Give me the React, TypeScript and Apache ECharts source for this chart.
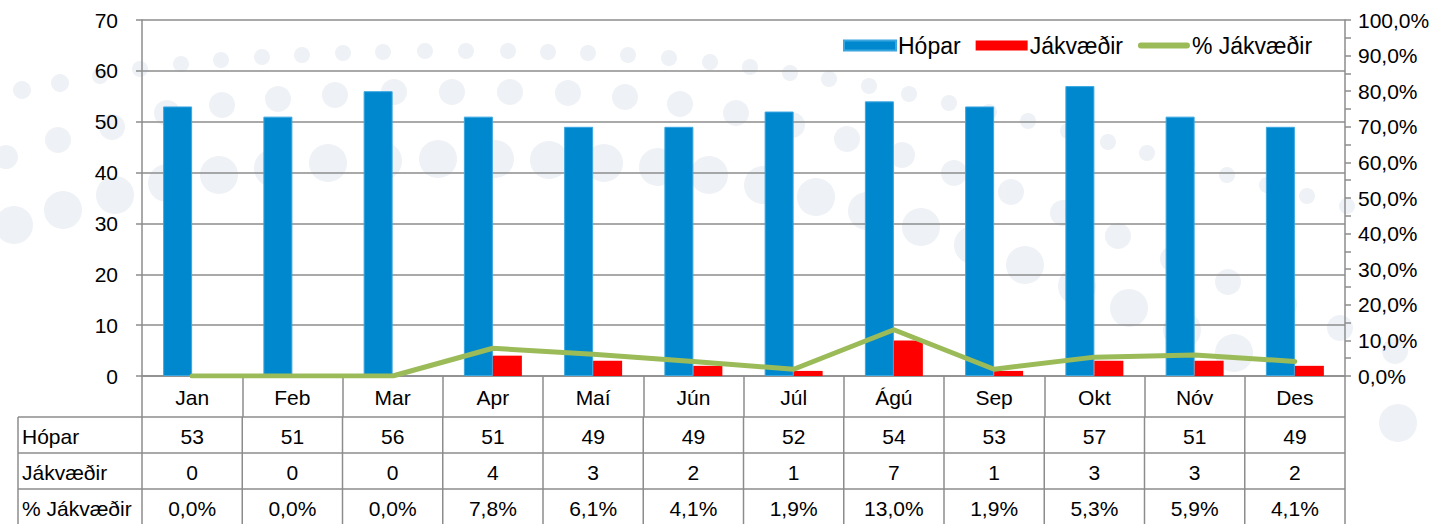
import React, { useEffect, useRef } from "react";
import * as echarts from "echarts";

const months = ["Jan", "Feb", "Mar", "Apr", "Maí", "Jún", "Júl", "Ágú", "Sep", "Okt", "Nóv", "Des"];
const hopar = [53, 51, 56, 51, 49, 49, 52, 54, 53, 57, 51, 49];
const jakvaedir = [0, 0, 0, 4, 3, 2, 1, 7, 1, 3, 3, 2];
const pctJakvaedir = [0.0, 0.0, 0.0, 7.8, 6.1, 4.1, 1.9, 13.0, 1.9, 5.3, 5.9, 4.1];
const rowNames = ["Hópar", "Jákvæðir", "% Jákvæðir"];

// decorative background dots [x, y, r]
const dots: number[][] = [
  [22, 90, 9], [60, 83, 9], [100, 76, 8], [140, 69, 8], [181, 64, 8], [221, 60, 8], [262, 57, 8], [302, 55, 8],
  [343, 53, 8], [383, 52, 8], [425, 51, 8], [466, 51, 8], [508, 51, 8], [548, 52, 8], [588, 53, 8], [628, 55, 8],
  [669, 58, 8], [710, 62, 8], [750, 67, 8], [790, 73, 8], [829, 79, 8], [869, 86, 8], [909, 94, 8], [949, 103, 8],
  [989, 112, 8], [1028, 121, 8], [1068, 131, 8], [1108, 142, 8], [1147, 153, 8], [1187, 164, 8], [1227, 175, 8],
  [1267, 185, 8], [1307, 196, 8], [1347, 206, 8],
  [6, 157, 12], [58, 140, 13], [112, 127, 13], [167, 113, 13], [222, 105, 13], [278, 99, 13], [335, 95, 13],
  [394, 92, 13], [452, 92, 13], [510, 92, 13], [568, 93, 13], [625, 97, 13], [680, 104, 13], [736, 113, 13],
  [792, 125, 13], [847, 139, 13], [902, 155, 13], [954, 173, 13], [1011, 192, 13], [1063, 213, 13],
  [1118, 236, 13], [1173, 259, 13], [1228, 282, 13], [1284, 305, 13], [1340, 328, 13], [1395, 351, 13],
  [14, 225, 19], [63, 210, 19], [115, 195, 19], [167, 183, 19], [219, 175, 19], [273, 168, 19], [328, 163, 19],
  [383, 161, 19], [438, 159, 19], [495, 159, 19], [549, 160, 19], [604, 163, 19], [658, 167, 19], [709, 175, 19],
  [763, 185, 19], [816, 197, 19], [867, 211, 19], [921, 227, 19], [973, 245, 19], [1025, 265, 19],
  [1077, 286, 19], [1129, 308, 19], [1182, 330, 19], [1234, 353, 19], [1398, 423, 19],
];

const FONT = "'Liberation Sans', Arial, sans-serif";
const GRAY = "#8c8c8c";
const fmtPct = (v: number) => v.toFixed(1).replace(".", ",") + "%";
const LINE_ICON = "path://M3,0 L49,0 A3,3 0 0 1 49,6 L3,6 A3,3 0 0 1 3,0 Z";

export default function App() {
  const ref = useRef<HTMLDivElement>(null);
  useEffect(() => {
    if (!ref.current) return;
    const chart = echarts.init(ref.current, null, { renderer: "svg" });

    const H = 524;
    const gridLeft = 142;
    const gridRight = 84;
    const gridTop = 20;
    const gridBottom = 148;
    const zeroY = H - gridBottom;
    const rowOffsets = [41, 77, 113];
    const rowH = 36;

    const tableRows = [hopar.map(String), jakvaedir.map(String), pctJakvaedir.map(fmtPct)];

    const dotGraphics: any[] = dots.map((d, i) => ({
      id: "dot" + i,
      type: "circle",
      silent: true,
      z: -10,
      shape: { cx: d[0], cy: d[1], r: d[2] },
      style: { fill: "#eef1f5" },
    }));

    chart.setOption({
      animation: false,
      backgroundColor: "#fff",
      textStyle: { fontFamily: FONT },
      grid: {
        left: gridLeft, right: gridRight, top: gridTop, bottom: gridBottom,
        containLabel: false, outerBoundsMode: "none",
      },
      legend: {
        left: 838, top: 29,
        itemWidth: 52, itemHeight: 10, itemGap: 15,
        padding: [5, 5],
        symbolKeepAspect: true,
        textStyle: { fontSize: 23, fontFamily: FONT, color: "#000", padding: [0, 0, 0, -3] },
        data: [
          { name: "Hópar", icon: "rect" },
          { name: "Jákvæðir", icon: "rect" },
          { name: "% Jákvæðir", icon: LINE_ICON, itemStyle: { color: "#9bbb59" } },
        ],
      },
      graphic: dotGraphics,
      xAxis: [
        {
          type: "category",
          data: months,
          axisLine: { show: true, onZero: false, lineStyle: { color: GRAY, width: 1.5 } },
          axisTick: { show: true, interval: 0, length: rowOffsets[0], lineStyle: { color: GRAY, width: 1.5 } },
          axisLabel: {
            interval: 0, margin: 21, verticalAlign: "middle",
            fontSize: 21, fontFamily: FONT, color: "#000",
          },
          splitLine: { show: false },
        },
      ],
      yAxis: [
        {
          type: "value",
          min: 0, max: 70, interval: 10,
          position: "left",
          axisLine: { show: true, onZero: false, lineStyle: { color: GRAY, width: 1.5 } },
          axisTick: { show: true, length: 6, lineStyle: { color: GRAY, width: 1.5 } },
          axisLabel: { margin: 24, fontSize: 21, fontFamily: FONT, color: "#000" },
          splitLine: { show: true, lineStyle: { color: GRAY, width: 1.5 } },
        },
        {
          type: "value",
          min: 0, max: 100, interval: 10,
          position: "right",
          axisLine: { show: true, onZero: false, lineStyle: { color: GRAY, width: 1.5 } },
          axisTick: { show: true, length: 6, lineStyle: { color: GRAY, width: 1.5 } },
          minorTick: { show: true, splitNumber: 2, length: 6, lineStyle: { color: GRAY, width: 1.5 } },
          axisLabel: { margin: 13, fontSize: 21, fontFamily: FONT, color: "#000", formatter: (v: number) => fmtPct(v) },
          splitLine: { show: false },
        },
      ],
      series: [
        {
          name: "Hópar",
          type: "bar",
          xAxisIndex: 0, yAxisIndex: 0,
          data: hopar,
          barWidth: 29,
          barGap: "0%",
          itemStyle: { color: "#0088cf", borderColor: "#3aa6e0", borderWidth: 1 },
        },
        {
          name: "Jákvæðir",
          type: "bar",
          xAxisIndex: 0, yAxisIndex: 0,
          data: jakvaedir,
          barWidth: 29,
          barGap: "0%",
          itemStyle: { color: "#ff0000" },
        },
        {
          name: "% Jákvæðir",
          type: "line",
          xAxisIndex: 0, yAxisIndex: 1,
          data: pctJakvaedir,
          symbol: "none",
          showSymbol: false,
          z: 3,
          lineStyle: { color: "#9bbb59", width: 5, cap: "round", join: "round" },
          itemStyle: { color: "#9bbb59" },
        },
      ],
    });

    // Data table: column positions come from the category axis scale
    const centers = months.map((m) => chart.convertToPixel({ xAxisIndex: 0 }, m) as number);
    const band = centers[1] - centers[0];
    const tableLeft = centers[0] - band / 2;
    const tableRight = centers[centers.length - 1] + band / 2;
    const tableGraphics: any[] = [];

    tableRows.forEach((row, r) => {
      const top = zeroY + rowOffsets[r];
      const cy = top + rowH / 2 + 1;
      // row border (top edge) including header column
      tableGraphics.push({
        id: "hsep" + r,
        type: "line", silent: true, z: 10,
        shape: { x1: 18, y1: top, x2: tableRight, y2: top },
        style: { stroke: GRAY, lineWidth: 1.5 },
      });
      tableGraphics.push({
        id: "rowname" + r,
        type: "text", silent: true, z: 10,
        x: 22, y: cy,
        style: {
          text: rowNames[r], fontSize: 21, fontFamily: FONT, fill: "#000",
          verticalAlign: "middle", align: "left",
        },
      });
      row.forEach((val, c) => {
        tableGraphics.push({
          id: "cell" + r + "_" + c,
          type: "text", silent: true, z: 10,
          x: centers[c], y: cy,
          style: {
            text: val, fontSize: 21, fontFamily: FONT, fill: "#000",
            verticalAlign: "middle", align: "center",
          },
        });
      });
    });
    for (let i = 0; i <= months.length; i++) {
      const x = tableLeft + i * band;
      tableGraphics.push({
        id: "vsep" + i,
        type: "line", silent: true, z: 10,
        shape: { x1: x, y1: zeroY + rowOffsets[0], x2: x, y2: H + 2 },
        style: { stroke: GRAY, lineWidth: 1.5 },
      });
    }
    tableGraphics.push({
      id: "vleft",
      type: "line", silent: true, z: 10,
      shape: { x1: 18, y1: zeroY + rowOffsets[0], x2: 18, y2: H + 2 },
      style: { stroke: GRAY, lineWidth: 1.5 },
    });
    chart.setOption({ graphic: tableGraphics });

    return () => chart.dispose();
  }, []);
  return <div ref={ref} style={{ position: "fixed", left: 0, top: 0, width: 1429, height: 524 }} />;
}
